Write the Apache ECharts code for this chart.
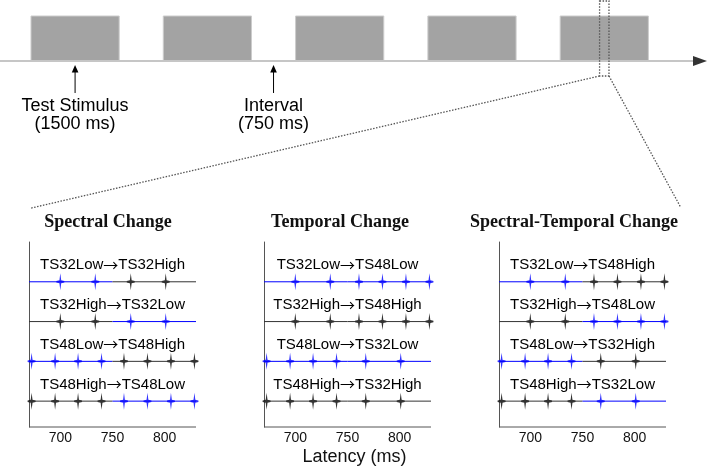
<!DOCTYPE html>
<html>
<head>
<meta charset="utf-8">
<script src="https://cdn.jsdelivr.net/npm/echarts@6/dist/echarts.min.js"></script>
<style>html,body{margin:0;padding:0;background:#fff}#c{width:709px;height:469px}</style>
</head>
<body>
<div id="c"></div>
<script>
// ---------- data ----------
// top timeline (ms)
const stimulusStarts = [0, 2250, 4500, 6750, 9000];
const stimulusDuration = 1500;
const annotationTimes = [750, 4125];
const annotationLines = [['Test Stimulus', '(1500 ms)'], ['Interval', '(750 ms)']];
const zoomWindow = [9670, 9830];
const zoomLinkEnds = [[-5, -3.27], [11049, -3.25]];

// latency panels (ms)
const latencyMin = 670;
const latencyMax = 830;
const changeTime = 750;
const latencyTicks = [700, 750, 800];
const clicksBefore = { TS32: [700, 733.5], TS48: [672.5, 695, 717, 739.5] };
const clicksAfter = { TS32: [767.5, 801], TS48: [761, 783.5, 806, 828.5] };

const panelTitles = ['Spectral Change', 'Temporal Change', 'Spectral-Temporal Change'];
const spectralRows = [['TS32Low', 'TS32High'], ['TS32High', 'TS32Low'], ['TS48Low', 'TS48High'], ['TS48High', 'TS48Low']];
const temporalRows = [['TS32Low', 'TS48Low'], ['TS32High', 'TS48High'], ['TS48Low', 'TS32Low'], ['TS48High', 'TS32High']];
const spectroTemporalRows = [['TS32Low', 'TS48High'], ['TS32High', 'TS48Low'], ['TS48Low', 'TS32High'], ['TS48High', 'TS32Low']];
const panelRows = [spectralRows, temporalRows, spectroTemporalRows];

// ---------- styles ----------
const BLUE = '#0000ff';
const BLACK = '#000000';
const sans = 'Liberation Sans, Arial, sans-serif';
const serif = 'Liberation Serif, Times New Roman, serif';
const cjk = 'Noto Sans CJK JP, sans-serif';
const spikeSymbol = 'path://M4,0 L4.9,6.6 L8,7.3 L8,8.7 L4.9,9.4 L4,16 L3.1,9.4 L0,8.7 L0,7.3 L3.1,6.6 Z';
const panelLeft = [29, 264, 499];
const titleCenter = [108, 340, 574];
const yMin = 0.35, yMax = 5;

const chart = echarts.init(document.getElementById('c'), null, { renderer: 'canvas' });

const grids = [{ left: 0, top: 0.25, width: 709, height: 211.5 }];
const xAxes = [{ gridIndex: 0, type: 'value', min: -527, max: 11531, show: false }];
const yAxes = [{ gridIndex: 0, type: 'value', min: -3.35, max: 1.35, show: false }];
const series = [];

// top: stimuli rectangles
series.push({
  type: 'custom', xAxisIndex: 0, yAxisIndex: 0, clip: false, silent: true,
  data: stimulusStarts.map(s => [s, s + stimulusDuration]),
  renderItem: (params, api) => {
    const p0 = api.coord([api.value(0), 1]);
    const p1 = api.coord([api.value(1), 0]);
    return { type: 'rect', shape: { x: p0[0], y: p0[1], width: p1[0] - p0[0], height: p1[1] - p0[1] },
      style: { fill: '#a3a3a3', stroke: '#cccccc', lineWidth: 1 } };
  }
});
// baseline
series.push({
  type: 'line', xAxisIndex: 0, yAxisIndex: 0, silent: true, symbol: 'none', z: 3,
  data: [[-527, 0], [11259, 0]], lineStyle: { color: '#c6c6c6', width: 2 }
});
series.push({
  type: 'scatter', xAxisIndex: 0, yAxisIndex: 0, silent: true, clip: false,
  data: [[11378, 0]], symbol: 'triangle', symbolSize: [10, 14], symbolRotate: -90,
  itemStyle: { color: '#000' }
});
// annotation arrows + text
series.push({
  type: 'custom', xAxisIndex: 0, yAxisIndex: 0, clip: false, silent: true,
  data: annotationTimes.map((t, i) => [t, i]),
  renderItem: (params, api) => {
    const t = api.value(0);
    const lines = annotationLines[api.value(1)];
    const tip = api.coord([t, -0.089]);
    const bot = api.coord([t, -0.711]);
    const l1 = api.coord([t, -0.99]);
    const l2 = api.coord([t, -1.39]);
    return { type: 'group', children: [
      { type: 'line', shape: { x1: bot[0], y1: bot[1], x2: tip[0], y2: tip[1] + 5 }, style: { stroke: '#000', lineWidth: 1 } },
      { type: 'polygon', shape: { points: [[tip[0], tip[1]], [tip[0] - 3.3, tip[1] + 7.5], [tip[0] + 3.3, tip[1] + 7.5]] }, style: { fill: '#000' } },
      { type: 'text', x: l1[0], y: l1[1], style: { text: lines[0], align: 'center', verticalAlign: 'middle', font: '18px ' + sans, fill: '#000' } },
      { type: 'text', x: l2[0], y: l2[1], style: { text: lines[1], align: 'center', verticalAlign: 'middle', font: '18px ' + sans, fill: '#000' } }
    ] };
  }
});
// zoom box and links
series.push({
  type: 'custom', xAxisIndex: 0, yAxisIndex: 0, clip: false, silent: true, z: 5,
  data: [zoomWindow],
  renderItem: (params, api) => {
    const a = api.value(0), b = api.value(1);
    const p0 = api.coord([a, 1.333]);
    const p1 = api.coord([b, -0.333]);
    const e0 = api.coord(zoomLinkEnds[0]);
    const e1 = api.coord(zoomLinkEnds[1]);
    const st = { stroke: '#555', lineWidth: 1.3, lineDash: [1.5, 1.5], fill: null };
    return { type: 'group', children: [
      { type: 'rect', shape: { x: p0[0], y: p0[1], width: p1[0] - p0[0], height: p1[1] - p0[1] }, style: st },
      { type: 'line', shape: { x1: p0[0], y1: p1[1], x2: e0[0], y2: e0[1] }, style: st },
      { type: 'line', shape: { x1: p1[0], y1: p1[1], x2: e1[0], y2: e1[1] }, style: st }
    ] };
  }
});

const titles = [];
panelRows.forEach((rows, p) => {
  const gi = p + 1;
  grids.push({ left: panelLeft[p], top: 242, width: 167, height: 185 });
  xAxes.push({
    gridIndex: gi, type: 'value', position: 'bottom', min: latencyMin, max: latencyMax, interval: 10,
    axisLine: { show: false, onZero: false },
    axisTick: { show: false }, splitLine: { show: false },
    axisLabel: { margin: 4, fontSize: 14, fontFamily: sans, color: '#111',
      formatter: v => latencyTicks.indexOf(v) >= 0 ? String(v) : '' },
    name: p === 1 ? 'Latency (ms)' : '', nameLocation: 'middle', nameGap: 21,
    nameTextStyle: { fontSize: 18, fontFamily: sans, color: '#111', padding: [0, 0, 0, 14] }
  });
  // rows at values 4 (top) .. 1 (bottom)
  yAxes.push({
    gridIndex: gi, type: 'value', min: yMin, max: yMax,
    axisLine: { show: true, onZero: false, lineStyle: { color: '#555', width: 1 } },
    axisTick: { show: false }, axisLabel: { show: false }, splitLine: { show: false }
  });
  titles.push({ text: panelTitles[p], left: titleCenter[p], top: 213, textAlign: 'center', padding: 0,
    textStyle: { fontFamily: serif, fontWeight: 'bold', fontSize: 18, color: '#111' } });

  // bottom axis frame line along the latency axis
  series.push({
    type: 'line', xAxisIndex: gi, yAxisIndex: gi, silent: true, symbol: 'none', clip: false,
    data: [[latencyMin, yMin], [latencyMax, yMin]], lineStyle: { color: '#555', width: 1 }
  });

  rows.forEach((pair, r) => {
    const y = 4 - r;
    const segs = [
      { cond: pair[0], x0: latencyMin, x1: changeTime, clicks: clicksBefore[pair[0].slice(0, 4)] },
      { cond: pair[1], x0: changeTime, x1: latencyMax, clicks: clicksAfter[pair[1].slice(0, 4)] }
    ];
    segs.forEach(s => {
      const col = s.cond.indexOf('Low') >= 0 ? BLUE : BLACK;
      series.push({
        type: 'line', xAxisIndex: gi, yAxisIndex: gi, silent: true, symbol: 'none',
        data: [[s.x0, y], [s.x1, y]], lineStyle: { color: col === BLUE ? BLUE : '#333', width: 1 }
      });
      series.push({
        type: 'scatter', xAxisIndex: gi, yAxisIndex: gi, silent: true, clip: false,
        symbol: spikeSymbol, symbolSize: [8, 17],
        data: s.clicks.map(c => [c, y]), itemStyle: { color: col }
      });
    });
  });
  // row labels
  series.push({
    type: 'custom', xAxisIndex: gi, yAxisIndex: gi, clip: false, silent: true,
    data: rows.map((pair, r) => [changeTime, 4 - r + 0.42, r]),
    renderItem: (params, api) => {
      const pt = api.coord([api.value(0), api.value(1)]);
      const pair = rows[api.value(2)];
      return { type: 'text', x: pt[0], y: pt[1],
        style: { text: '{t|' + pair[0] + '}{a|→}{t|' + pair[1] + '}', align: 'center', verticalAlign: 'middle',
          rich: { t: { fontSize: 15, fontFamily: sans, color: '#111' }, a: { fontSize: 15, fontFamily: cjk, color: '#111' } } } };
    }
  });
});

chart.setOption({
  animation: false,
  backgroundColor: '#fff',
  title: titles,
  grid: grids,
  xAxis: xAxes,
  yAxis: yAxes,
  series: series
});
</script>
</body>
</html>
